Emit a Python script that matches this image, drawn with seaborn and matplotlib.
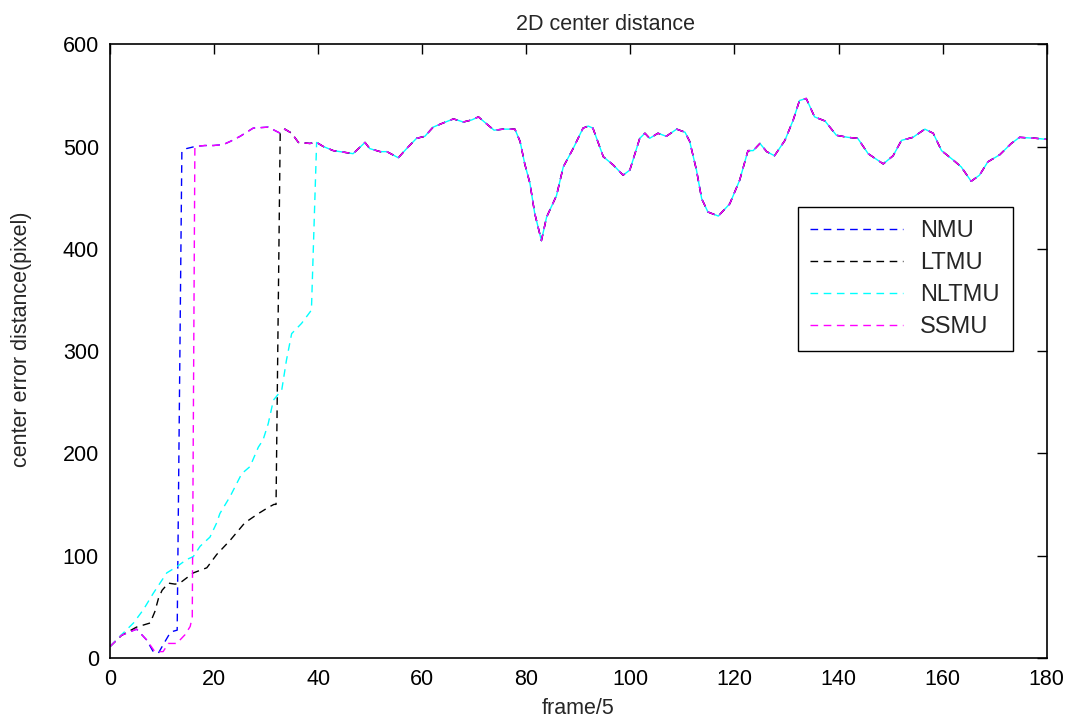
import numpy as np
import pandas as pd
import matplotlib
matplotlib.use('Agg')
import matplotlib.pyplot as plt
import seaborn as sns

# shared part of the curve (all trackers converge on it)
tail_x = [13.8, 14.7, 16.3, 18.2, 19.9, 21.8, 23.1, 25.0, 27.5, 30.4, 32.7, 33.6, 34.9, 36.2, 38.4,
          39.7, 41.0, 42.9, 45.5, 46.7, 49.0, 49.9, 51.9, 53.2, 55.4, 57.0, 58.9, 60.5, 62.1, 64.0,
          66.0, 67.9, 69.5, 70.8, 72.4, 73.8, 75.6, 77.8, 78.8, 79.7, 80.7, 81.6, 82.9, 83.9, 85.8,
          87.1, 89.0, 90.9, 91.9, 92.8, 94.8, 96.7, 98.6, 99.9, 101.8, 102.8, 103.7, 105.3, 106.9,
          108.9, 110.5, 111.4, 112.7, 113.7, 114.9, 116.9, 119.1, 121.0, 122.6, 123.6, 124.9, 126.2,
          127.7, 129.7, 131.3, 132.5, 133.8, 135.4, 137.4, 139.6, 141.8, 143.7, 145.7, 148.6, 150.5,
          152.1, 154.3, 156.6, 158.2, 159.8, 162.0, 163.6, 165.5, 167.1, 168.7, 171.0, 173.2, 174.8,
          178.0, 180.0]
tail_y = [495, 498, 500, 501, 501, 502, 505, 510, 518, 519, 513, 517, 513, 504, 503,
          504, 500, 496, 494, 493, 504, 498, 495, 495, 489, 498, 508, 510, 519, 523,
          527, 524, 526, 529, 522, 516, 517, 517, 505, 483, 464, 435, 408, 431, 452,
          480, 498, 518, 520, 518, 490, 482, 472, 477, 508, 513, 508, 513, 510,
          517, 514, 505, 477, 449, 436, 432, 444, 467, 496, 496, 503, 495,
          491, 506, 526, 545, 547, 529, 525, 511, 509, 508, 493, 483, 491,
          506, 509, 517, 513, 496, 487, 480, 466, 472, 485, 492, 503, 509,
          508, 507]

# early part of each tracker, before it joins the shared curve
nmu_x = [0, 2.2, 5.1, 7.0, 8.3, 9.3, 10.2, 11.5, 12.2, 12.9]
nmu_y = [11, 22, 28, 17.6, 6, 4.6, 12.7, 24, 26, 27]

ltmu_x = [0, 2.2, 5.1, 7.7, 8.6, 9.3, 10.0, 11.2, 12.5, 13.4, 16.0, 18.6, 20.5, 23.1, 25.9,
          28.5, 30.4, 31.5, 31.9, 32.7]
ltmu_y = [11, 22, 30, 34, 45, 58, 66, 73, 72, 73, 83, 88, 101, 115, 132,
          141, 147, 150, 150, 513]

nltmu_x = [0, 2.2, 4.5, 6.4, 8.3, 10.9, 12.8, 14.7, 16.0, 17.3, 19.2, 20.5, 21.1, 23.1, 25.3,
           26.9, 28.5, 29.4, 30.4, 31.4, 33.0, 33.9, 34.9, 36.8, 38.7, 39.7]
nltmu_y = [11, 22.5, 34, 47, 63, 83, 89, 96, 99, 109, 118, 132, 141, 158, 180,
           187, 206, 213, 229, 252, 262, 291, 317, 327, 340, 504]

ssmu_x = [0, 2.2, 5.1, 7.0, 8.6, 10.2, 11.2, 12.8, 14.4, 15.4, 15.8, 16.3]
ssmu_y = [11, 22, 28, 17.6, 6, 6, 14, 14, 22.5, 30.6, 40, 500]

names = ['NMU', 'LTMU', 'NLTMU', 'SSMU']
heads = [(nmu_x, nmu_y), (ltmu_x, ltmu_y), (nltmu_x, nltmu_y), (ssmu_x, ssmu_y)]
colors = {'NMU': '#0000ff', 'LTMU': '#000000', 'NLTMU': '#00ffff', 'SSMU': '#ff00ff'}

frames = []
for name, (hx, hy) in zip(names, heads):
    tx = [x for x in tail_x if x > hx[-1]]
    ty = [y for x, y in zip(tail_x, tail_y) if x > hx[-1]]
    frames.append(pd.DataFrame({'frame': list(hx) + tx, 'error': list(hy) + ty, 'tracker': name}))
df = pd.concat(frames, ignore_index=True)

sns.set_style('white')
plt.rcParams['font.family'] = ['Liberation Sans', 'DejaVu Sans']

fig = plt.figure(figsize=(10.79, 7.26), dpi=100)
ax = fig.add_axes([0.102, 0.094, 0.868, 0.845])

sns.lineplot(data=df, x='frame', y='error', hue='tracker', style='tracker',
             hue_order=names, style_order=names, palette=colors,
             dashes={n: (5.5, 4.0) for n in names}, sort=False, estimator=None,
             lw=1.0, ax=ax)

ax.set_xlim(0, 180)
ax.set_ylim(0, 600)
ax.set_xticks(range(0, 181, 20))
ax.set_yticks(range(0, 601, 100))
ax.tick_params(direction='in', top=True, right=True, length=7, width=1,
               labelsize=15.5, colors='black', pad=8)
for s in ax.spines.values():
    s.set_color('black')
    s.set_linewidth(1.2)

ax.set_title('2D center distance', fontsize=15.5, pad=10, x=0.529)
ax.set_xlabel('frame/5', fontsize=15.5)
ax.set_ylabel('center error distance(pixel)', fontsize=15.5)
ax.xaxis.set_label_coords(0.5, -0.066)
ax.yaxis.set_label_coords(-0.083, 0.52)

sns.move_legend(ax, 'upper left', bbox_to_anchor=(0.734, 0.7345), title=None,
                fontsize=17, frameon=True, fancybox=False, edgecolor='black',
                framealpha=1, handlelength=3.9, handletextpad=0.75,
                labelspacing=0.42, borderpad=0.55, borderaxespad=0)
ax.get_legend().get_frame().set_linewidth(1.0)

fig.savefig('out.png', dpi=100)
